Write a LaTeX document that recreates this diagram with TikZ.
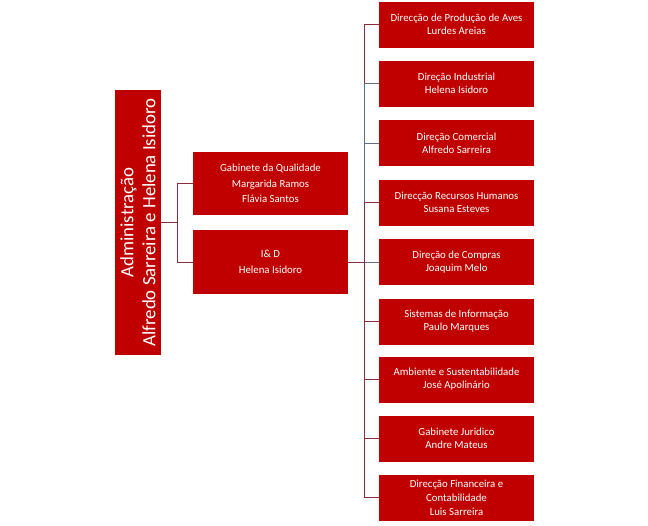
\documentclass[tikz,border=0pt]{standalone}
\usepackage{fontspec}
\setmainfont{Carlito}
\definecolor{boxred}{HTML}{C00000}
\definecolor{linec}{HTML}{8B2D3A}
\definecolor{lineb}{HTML}{5F6E80}
\begin{document}
\begin{tikzpicture}[x=1pt,y=-1pt,
  box/.style={fill=boxred, text=white, draw=none, inner sep=0pt, align=center, font=\fontsize{10.8}{13}\selectfont},
  rbox/.style={box, minimum width=155pt, minimum height=46pt},
  conn/.style={draw=linec, line width=0.8pt},
  connb/.style={draw=lineb, line width=0.8pt}]
\useasboundingbox (0,0) rectangle (648,525);
\node[box, rotate=90, minimum width=265pt, minimum height=46pt, font=\fontsize{18.8}{22}\selectfont] (adm) at (138,222.5) {Administração\\Alfredo Sarreira e Helena Isidoro};
\node[box, minimum width=155pt, minimum height=63pt, font=\fontsize{10.8}{15.5}\selectfont] (gq) at (270.5,183.5) {Gabinete da Qualidade\\Margarida Ramos\\Flávia Santos};
\node[box, minimum width=155pt, minimum height=64pt, font=\fontsize{10.8}{15.5}\selectfont] (id) at (270.5,262) {I\& D\\Helena Isidoro};
\node[rbox] (r1) at (456.5,24.5) {Direcção de Produção de Aves\\Lurdes Areias};
\node[rbox] (r2) at (456.5,83.5) {Direção Industrial\\Helena Isidoro};
\node[rbox] (r3) at (456.5,143) {Direção Comercial\\Alfredo Sarreira};
\node[rbox] (r4) at (456.5,202.5) {Direcção Recursos Humanos\\Susana Esteves};
\node[rbox] (r5) at (456.5,262) {Direção de Compras\\Joaquim Melo};
\node[rbox] (r6) at (456.5,321.5) {Sistemas de Informação\\Paulo Marques};
\node[rbox] (r7) at (456.5,379.5) {Ambiente e Sustentabilidade\\José Apolinário};
\node[rbox] (r8) at (456.5,438.5) {Gabinete Juridico\\Andre Mateus};
\node[rbox, font=\fontsize{10.8}{14}\selectfont] (r9) at (456.5,497.5) {Direcção Financeira e\\Contabilidade\\Luis Sarreira};
\coordinate (j1) at (177,222.5);
\coordinate (j2) at (364,262);
\draw[conn] (adm.south) -- (j1);
\draw[conn] (j1) |- (gq.west);
\draw[conn] (j1) |- (id.west);
\draw[conn] (id.east) -- (j2);
\draw[conn] (j2) |- (r1.west);
\draw[connb] (j2) |- (r2.west);
\draw[connb] (j2) |- (r3.west);
\draw[conn] (j2) |- (r4.west);
\draw[connb] (j2) |- (r5.west);
\draw[conn] (j2) |- (r6.west);
\draw[conn] (j2) |- (r7.west);
\draw[conn] (j2) |- (r8.west);
\draw[conn] (j2) |- (r9.west);
\end{tikzpicture}
\end{document}
